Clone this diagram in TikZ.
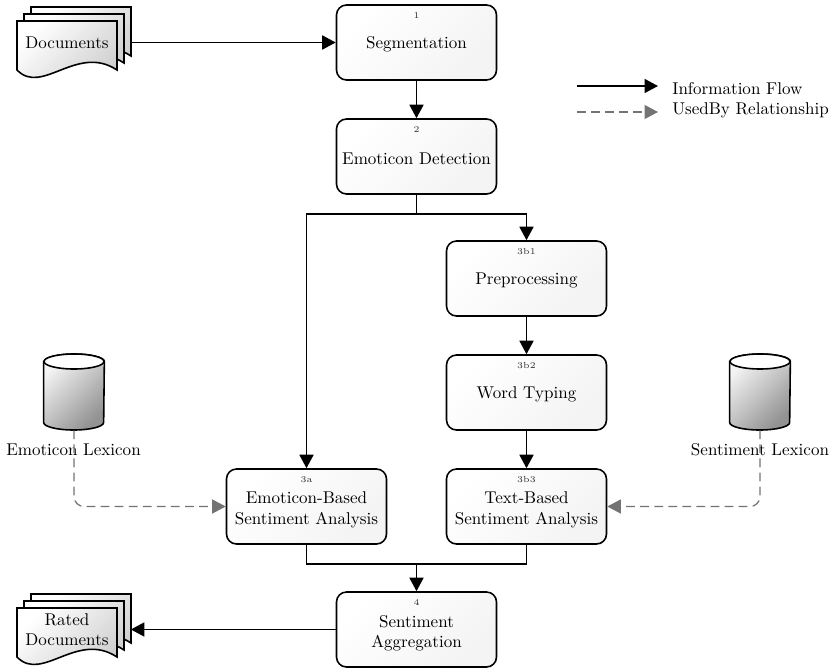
\documentclass[tikz,border=0pt]{standalone}
\usepackage{xcolor}
\usepackage{tikz}
\usetikzlibrary{shapes.geometric, arrows.meta, positioning}
\tikzset{every node/.style={font=\normalfont\fontsize{9.7}{13}\selectfont}}

\begin{document}
\begin{tikzpicture}
    % Define styles
    \tikzstyle{process} = [rectangle, rounded corners=0.2cm, minimum width=3.2cm, minimum height=1.5cm, inner sep=1pt, align=center, draw=black, line width=0.9pt, top color=white, bottom color=gray!9, shading angle=45, execute at begin node={\rule{0pt}{0.32cm}}]
    \tikzstyle{boxtext} = [align=center, inner sep=0pt]
    \tikzstyle{stepnum} = [font=\normalfont\fontsize{5}{6}\selectfont, inner sep=0pt, text=black!80]
    \tikzstyle{sheet} = [draw=black, line width=0.9pt, top color=white, bottom color=gray!40, shading angle=45]
    \tikzstyle{stack} = [rectangle, minimum width=2.28cm, minimum height=1.42cm, inner sep=0pt]
    \tikzstyle{lexdb} = [rectangle, minimum width=1.2cm, minimum height=1.52cm, inner sep=0pt]
    \tikzstyle{dbbody} = [draw=black, line width=0.9pt, top color=gray!8, bottom color=gray!85, shading angle=45]
    \tikzstyle{flow} = [line width=1pt, -{Triangle[length=0.27cm, width=0.28cm]}]
    \tikzstyle{flowline} = [line width=1pt]
    \tikzstyle{usedby} = [line width=0.7pt, dashed, dash pattern=on 5pt off 3pt, draw=black!55, rounded corners=0.2cm, -{Triangle[length=0.27cm, width=0.28cm, black!55]}]

    \useasboundingbox (0, 0) rectangle (16.62, 13.38);

    % Document stacks, back sheet first
    \foreach \dy in {0, -11.74} {
        \foreach \off in {0.28, 0.14, 0} {
            \begin{scope}[shift={(0.34+\off, 12.96+\dy+\off)}]
                \draw [sheet] (0, 0) -- (2, 0) -- (2, -0.98) .. controls (1.2, -0.45) and (0.5, -1.5) .. (0, -0.98) -- cycle;
            \end{scope}
        }
    }
    \node (docs) [stack] at (1.47, 12.53) {};
    \node (docstext) at (1.34, 12.53) {Documents};
    \node (rated) [stack] at (1.47, 0.79) {};
    \node (ratedtext) [align=center] at (1.34, 0.78) {Rated\\[-0.06cm]Documents};

    % Main steps
    \node (seg) [process] at (8.33, 12.53) {Segmentation};
    \node (det) [process] at (8.33, 10.25) {Emoticon Detection};
    \node (pre) [process] at (10.53, 7.81) {Preprocessing};
    \node (typing) [process] at (10.53, 5.53) {Word Typing};
    \node (textsa) [process] at (10.53, 3.25) {};
    \node (emosa) [process] at (6.13, 3.25) {};
    \node (agg) [process] at (8.33, 0.79) {};
    \node (textsatext) [boxtext] at (10.53, 3.19) {Text-Based\\[-0.04cm]Sentiment Analysis};
    \node (emosatext) [boxtext] at (6.13, 3.19) {Emoticon-Based\\[-0.04cm]Sentiment Analysis};
    \node (aggtext) [boxtext] at (8.33, 0.72) {Sentiment\\[-0.06cm]Aggregation};

    % Step numbers
    \node (num1) [stepnum] at (8.33, 13.06) {1};
    \node (num2) [stepnum] at (8.33, 10.78) {2};
    \node (num3b1) [stepnum] at (10.53, 8.34) {3b1};
    \node (num3b2) [stepnum] at (10.53, 6.06) {3b2};
    \node (num3b3) [stepnum] at (10.53, 3.78) {3b3};
    \node (num3a) [stepnum] at (6.13, 3.78) {3a};
    \node (num4) [stepnum] at (8.33, 1.32) {4};

    % Lexicons
    \node (emodb) [lexdb] at (1.48, 5.54) {};
    \node (sentdb) [lexdb] at (15.2, 5.54) {};
    \foreach \db in {emodb, sentdb} {
        \draw [dbbody] ([yshift=0.61cm]\db.west) -- ([yshift=-0.61cm]\db.west) arc [start angle=180, end angle=360, x radius=0.6, y radius=0.15] -- ([yshift=0.61cm]\db.east) arc [start angle=0, end angle=180, x radius=0.6, y radius=0.15] -- cycle;
        \draw [draw=black, line width=0.9pt, fill=white] ([yshift=0.61cm]\db.center) ellipse (0.6 and 0.15);
    }
    \node (emolabel) at (1.47, 4.39) {Emoticon Lexicon};
    \node (sentlabel) at (15.2, 4.39) {Sentiment Lexicon};

    % Branch points
    \coordinate (split) at (8.33, 9.1);
    \coordinate (merge) at (8.33, 2.1);

    % Information flow
    \draw [flow] (docs.east) -- (seg.west);
    \draw [flow] (seg.south) -- (det.north);
    \draw [flowline] (det.south) -- (split);
    \draw [flow] (split) -| (pre.north);
    \draw [flow] (split) -| (emosa.north);
    \draw [flow] (pre.south) -- (typing.north);
    \draw [flow] (typing.south) -- (textsa.north);
    \draw [flowline] (emosa.south) |- (merge);
    \draw [flowline] (textsa.south) |- (merge);
    \draw [flow] (merge) -- (agg.north);
    \draw [flow] (agg.west) -- (rated.east);

    % UsedBy relations
    \draw [usedby] (emodb.south) |- (emosa.west);
    \draw [usedby] (sentdb.south) |- (textsa.east);

    % Legend
    \coordinate (flowstart) at (11.54, 11.66);
    \coordinate (flowend) at (13.16, 11.66);
    \coordinate (usedstart) at (11.54, 11.14);
    \coordinate (usedend) at (13.16, 11.14);
    \draw [flow] (flowstart) -- (flowend);
    \draw [usedby] (usedstart) -- (usedend);
    \node (flowtext) [anchor=west, inner sep=0pt] at (13.44, 11.6) {Information Flow};
    \node (usedtext) [anchor=west, inner sep=0pt] at (13.44, 11.18) {UsedBy Relationship};
\end{tikzpicture}
\end{document}
